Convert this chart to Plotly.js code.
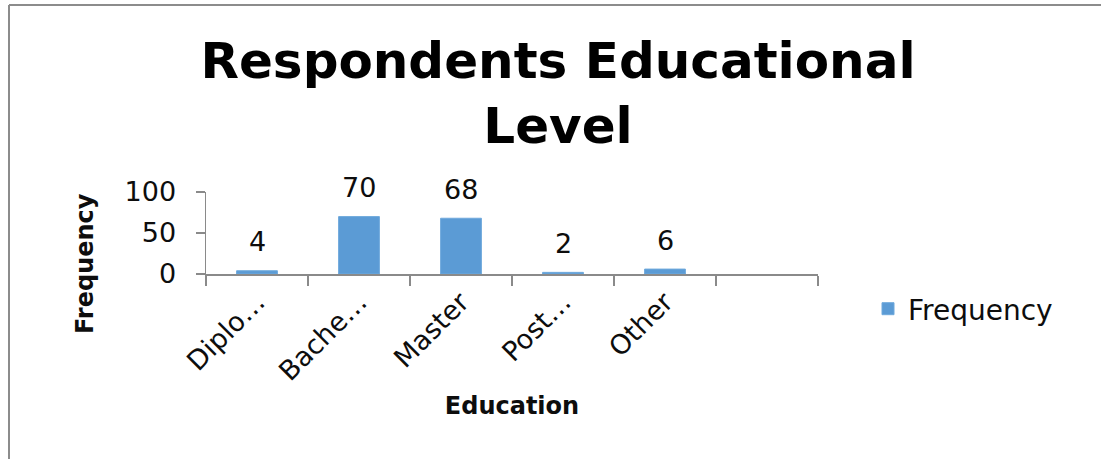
<!DOCTYPE html>
<html>
<head>
<meta charset="utf-8">
<script src="https://cdn.plot.ly/plotly-3.0.1.min.js"></script>
<style>
  html, body { margin: 0; padding: 0; background: #ffffff; }
  #chart { width: 1101px; height: 459px; }
</style>
</head>
<body>
<div id="chart"></div>
<script>
// ---- data ----
const categories = ["Diplo…", "Bache…", "Master", "Post…", "Other", ""];
const frequency = [4, 70, 68, 2, 6, null];
const labelCats = ["Diplo…", "Bache…", "Master", "Post…", "Other"];
const labelVals = [4, 70, 68, 2, 6];
const yTicks = [0, 50, 100];
const seriesName = "Frequency";
const chartTitle = "Respondents Educational<br>Level";
const xTitle = "Education";
const yTitle = "Frequency";

// ---- style ----
const barColor = "#5B9BD5";
const axisColor = "#8a8a8a";
const textColor = "#0d0d0d";
const font = "DejaVu Sans, Verdana, sans-serif";

const trace = {
  type: "bar",
  x: categories,
  y: frequency,
  name: seriesName,
  marker: { color: barColor, line: { color: "#6fa9dc", width: 1 } },
  showlegend: true,
  hoverinfo: "x+y"
};

const annotations = labelCats.map((c, i) => ({
  x: c, y: labelVals[i], xref: "x", yref: "y",
  text: String(labelVals[i]), showarrow: false,
  yanchor: "middle", yshift: 29,
  font: { family: font, size: 27, color: textColor }
}));

// y-axis title as annotation (positioned like the original)
annotations.push({
  xref: "paper", yref: "paper",
  x: (85 - 206) / 612, y: (274 - 264) / 82,
  text: "<b>" + yTitle + "</b>", showarrow: false, textangle: -90,
  xanchor: "center", yanchor: "middle",
  font: { family: font, size: 24, color: textColor }
});

const layout = {
  width: 1101, height: 459,
  paper_bgcolor: "#ffffff", plot_bgcolor: "#ffffff",
  margin: { l: 206, r: 283, t: 192, b: 185, pad: 0 },
  title: {
    text: "<b>" + chartTitle + "</b>",
    font: { family: font, size: 50, color: "#000000" },
    x: 558 / 1101, xanchor: "center", xref: "container",
    y: 1 - 78 / 459, yanchor: "top", yref: "container"
  },
  bargap: 0.6,
  xaxis: {
    type: "category",
    categoryorder: "array", categoryarray: categories,
    range: [-0.5, 5.5],
    showline: true, linecolor: axisColor, linewidth: 1.5,
    ticks: "outside", tickson: "boundaries", ticklen: 10, tickwidth: 1.5, tickcolor: axisColor,
    tickangle: -45,
    tickfont: { family: font, size: 27, color: textColor },
    showgrid: false, zeroline: false,
    title: {
      text: "<b>" + xTitle + "</b>",
      font: { family: font, size: 24, color: textColor },
      standoff: 12
    },
    automargin: false
  },
  yaxis: {
    range: [0, 100],
    tickvals: yTicks,
    showline: true, linecolor: axisColor, linewidth: 1.5,
    ticks: "outside", ticklen: 9, tickwidth: 1.5, tickcolor: axisColor,
    ticklabelstandoff: 14,
    tickfont: { family: font, size: 27, color: textColor },
    showgrid: false, zeroline: false,
    automargin: false
  },
  legend: {
    x: (868 - 206) / 612, xanchor: "left",
    y: (274 - 309) / 82, yanchor: "middle",
    font: { family: font, size: 28, color: textColor },
    bgcolor: "rgba(0,0,0,0)"
  },
  showlegend: true,
  annotations: annotations,
  shapes: [
    { type: "line", xref: "paper", yref: "paper",
      x0: (9 - 206) / 612, x1: 1.6, y0: (274 - 5) / 82, y1: (274 - 5) / 82,
      line: { color: "#8c8c8c", width: 2 } },
    { type: "line", xref: "paper", yref: "paper",
      x0: (9 - 206) / 612, x1: (9 - 206) / 612, y0: (274 - 5) / 82, y1: -2.6,
      line: { color: "#8c8c8c", width: 2 } }
  ]
};

Plotly.newPlot("chart", [trace], layout, { displayModeBar: false, staticPlot: true });
</script>
</body>
</html>
